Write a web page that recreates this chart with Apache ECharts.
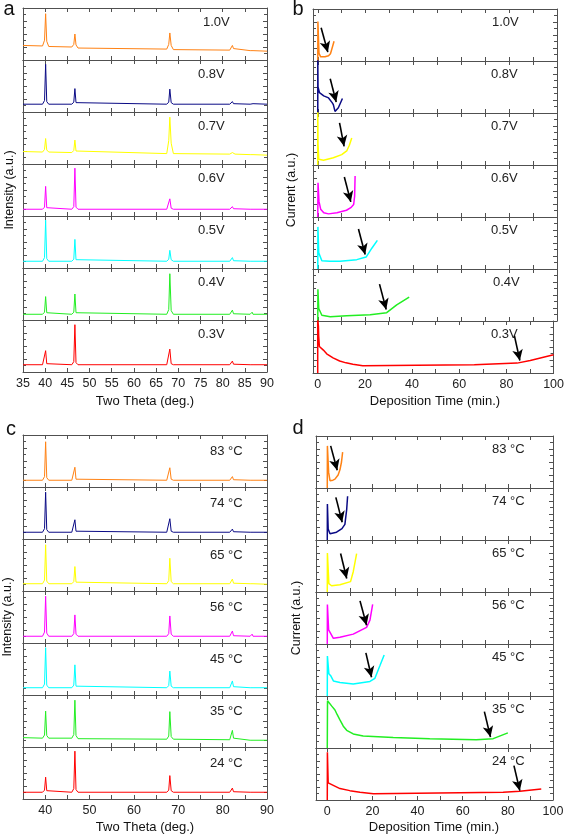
<!DOCTYPE html>
<html><head><meta charset="utf-8">
<script src="https://cdn.jsdelivr.net/npm/echarts@6/dist/echarts.min.js"></script>
<style>html,body{margin:0;padding:0;background:#fff}#c{width:567px;height:835px}</style>
</head><body><div id="c"></div>
<script>
// ---------- DATA ----------
const xrdX = [35, 39.4, 39.85, 40.1, 40.35, 40.8, 46.0, 46.45, 46.7, 46.95, 47.4, 67.4, 67.85, 68.1, 68.4, 68.9, 81.6, 81.95, 82.2, 82.45, 82.8, 86.2, 86.45, 86.65, 86.85, 87.1, 90];

const aLabels = ['1.0V', '0.8V', '0.7V', '0.6V', '0.5V', '0.4V', '0.3V'];
const cLabels = ['83 °C', '74 °C', '65 °C', '56 °C', '45 °C', '35 °C', '24 °C'];
const colors = ['#ff8214', '#0a0a85', '#ffff00', '#ff00ff', '#00ffff', '#22ee22', '#ff0000'];

const timeTicks = [0, 10, 20, 30, 40, 50, 60, 70, 80, 90, 100];
const timeLabels = [0, 20, 40, 60, 80, 100];

const aIntensity = [
  [.28,.27,.38,.89,.36,.26, .25,.30,.50,.29,.23, .21,.30,.52,.28,.20, .19,.22,.28,.22,.19, .18,.18,.18,.18,.18, .17],
  [.15,.15,.22,.92,.20,.15, .15,.19,.45,.18,.15, .15,.19,.44,.18,.15, .15,.16,.20,.16,.15, .15,.16,.18,.16,.15, .15],
  [.24,.23,.28,.49,.27,.23, .22,.26,.46,.25,.22, .20,.45,.90,.40,.20, .19,.20,.22,.20,.19, .18,.18,.18,.18,.18, .17],
  [.13,.13,.17,.57,.16,.13, .13,.18,.92,.17,.13, .13,.16,.33,.15,.13, .13,.14,.18,.14,.13, .13,.13,.15,.13,.13, .13],
  [.13,.13,.20,.92,.18,.13, .13,.17,.55,.16,.13, .13,.17,.34,.16,.13, .13,.14,.20,.14,.13, .13,.13,.14,.13,.13, .13],
  [.11,.11,.15,.45,.14,.11, .11,.15,.50,.14,.11, .11,.20,.89,.18,.11, .11,.12,.19,.12,.11, .11,.11,.15,.11,.11, .11],
  [.14,.14,.17,.41,.16,.14, .14,.20,.91,.18,.14, .14,.17,.44,.16,.14, .14,.15,.21,.15,.14, .14,.14,.14,.14,.14, .14]
];
const cIntensity = [
  [.13,.13,.20,.87,.18,.13, .13,.16,.38,.15,.13, .13,.16,.37,.15,.13, .13,.14,.20,.14,.13, .13,.13,.16,.13,.13, .13],
  [.13,.13,.20,.90,.18,.13, .13,.16,.37,.15,.13, .13,.16,.39,.15,.13, .13,.14,.19,.14,.13, .13,.13,.16,.13,.13, .13],
  [.14,.14,.21,.89,.19,.14, .14,.18,.47,.17,.14, .14,.20,.63,.18,.14, .14,.15,.23,.15,.14, .14,.14,.15,.14,.14, .13],
  [.13,.13,.21,.90,.19,.13, .13,.18,.54,.17,.13, .13,.18,.52,.17,.13, .13,.14,.23,.14,.13, .13,.13,.17,.13,.13, .13],
  [.14,.14,.21,.91,.19,.14, .14,.19,.58,.17,.14, .14,.18,.46,.17,.14, .14,.16,.27,.16,.14, .14,.14,.17,.14,.14, .14],
  [.18,.17,.23,.69,.22,.17, .17,.24,.90,.22,.16, .15,.21,.68,.20,.15, .14,.17,.32,.17,.14, .13,.13,.14,.13,.13, .13],
  [.13,.13,.17,.42,.16,.13, .13,.20,.92,.18,.13, .13,.17,.45,.16,.13, .13,.14,.21,.14,.13, .13,.13,.13,.13,.13, .13]
];

const bCurrent = [
  [[0,0],[0.05,0.76],[0.5,0.15],[1.2,0.08],[3,0.08],[4.5,0.1],[5.3,0.14],[6,0.25],[6.8,0.38]],
  [[0,0],[0,1.05],[0.1,0.5],[0.7,0.39],[2.5,0.33],[4.5,0.29],[6,0.2],[6.5,0.16],[7.2,0.03],[8.6,0.1],[10.3,0.28]],
  [[0,0],[0,1.05],[0.1,0.4],[0.4,0.11],[2.4,0.09],[6.5,0.14],[10,0.2],[12.1,0.27],[13.2,0.38],[14.2,0.52]],
  [[0,0],[0.1,0.66],[0.5,0.3],[1.2,0.15],[2.5,0.08],[4.5,0.06],[8,0.08],[12,0.13],[13.8,0.18],[15,0.24],[15.4,0.4],[15.6,0.79]],
  [[0,0],[0.05,0.81],[0.4,0.31],[1.7,0.16],[5,0.15],[9.3,0.15],[16.3,0.18],[20.2,0.23],[22.6,0.4],[24.9,0.55]],
  [[0,0],[0.05,0.61],[0.4,0.24],[1.7,0.11],[5.2,0.08],[12.1,0.1],[21.9,0.12],[28.8,0.16],[33,0.31],[38.2,0.46]],
  [[0,0],[0,1.05],[0.3,0.9],[0.4,0.72],[0.7,0.51],[2.4,0.44],[3.8,0.37],[6.5,0.29],[9.3,0.23],[12,0.195],[14.9,0.17],[19.1,0.14],[42,0.15],[66.4,0.16],[84.5,0.19],[90.1,0.24],[100,0.35]]
];
const bArrows = [
  [[1.4,0.64],[4.2,0.17]],
  [[5.2,0.66],[7.7,0.21]],
  [[9.1,0.81],[11,0.36]],
  [[11.1,0.77],[13.8,0.29]],
  [[17,0.77],[19.8,0.28]],
  [[25.8,0.71],[28.6,0.22]],
  [[83.4,0.72],[85.7,0.24]]
];
const dCurrent = [
  [[0,0],[0.05,0.81],[0.6,0.3],[1.2,0.14],[2.5,0.15],[3.4,0.17],[4.8,0.25],[5.6,0.35],[6.3,0.5],[6.8,0.69]],
  [[0,0],[0.05,0.69],[0.4,0.21],[1.2,0.12],[4.1,0.15],[6.5,0.22],[7.8,0.3],[8.6,0.59],[9,0.84]],
  [[0,0],[0.05,0.75],[0.7,0.16],[1.9,0.12],[5.6,0.14],[10.3,0.2],[11.5,0.39],[13,0.74]],
  [[0,0],[0.05,0.76],[0.6,0.27],[2.7,0.11],[5.6,0.13],[11.5,0.19],[17.4,0.32],[18.9,0.46],[20.1,0.76]],
  [[0,0],[0.05,0.77],[0.7,0.43],[1.5,0.39],[2.7,0.29],[5.6,0.26],[11.5,0.23],[18.9,0.28],[21.1,0.34],[23.3,0.58],[25.2,0.79]],
  [[0,0],[0.1,0.91],[0.7,0.89],[1.9,0.81],[3.4,0.73],[4.4,0.64],[5.6,0.54],[7.1,0.42],[8.6,0.34],[11.5,0.27],[15.9,0.23],[29.2,0.2],[45.4,0.18],[66,0.16],[73.5,0.18],[80,0.29]],
  [[0,0],[0.05,0.92],[0.4,0.33],[0.9,0.31],[5.6,0.22],[10,0.18],[14.5,0.15],[20.4,0.12],[39.5,0.13],[77.9,0.15],[85.3,0.17],[94.8,0.21]]
];
const dArrows = [
  [[1.5,0.81],[4.4,0.34]],
  [[3.8,0.82],[6.6,0.34]],
  [[5.9,0.74],[8.6,0.26]],
  [[14.5,0.83],[17.4,0.36]],
  [[17.1,0.83],[19.6,0.36]],
  [[69.6,0.7],[72.3,0.21]],
  [[82.7,0.66],[85.3,0.18]]
];

// ---------- LAYOUT ----------
const FONT = 'Liberation Sans, Arial, sans-serif';
const AX = '#505050';
const panels = [
  {key:'a', left:23, width:244, top:8, h:52, xmin:35, xmax:90, step:5, labelEvery:5,
   series: aIntensity.map(r => xrdX.map((x,i)=>[x, r[i]])), arrows:null, labels:aLabels, lw:1,
   lblX:[203,198,198,198,198,198,198], lblDy:14},
  {key:'b', left:313, width:244, top:9, h:52, xmin:-2, xmax:100, ticks:timeTicks, tickLabels:timeLabels,
   series: bCurrent, arrows:bArrows, labels:aLabels, lw:1.5,
   lblX:[492,491,491,491,491,493,491], lblDy:13},
  {key:'c', left:23, width:244, top:435, h:52, xmin:35, xmax:90, step:5, labelEvery:10,
   series: cIntensity.map(r => xrdX.map((x,i)=>[x, r[i]])), arrows:null, labels:cLabels, lw:1,
   lblX:[210,210,210,210,210,210,210], lblDy:16},
  {key:'d', left:316, width:237, top:436, h:52, xmin:-5, xmax:100, ticks:timeTicks, tickLabels:timeLabels,
   series: dCurrent, arrows:dArrows, labels:cLabels, lw:1.5,
   lblX:[492,492,492,492,492,492,492], lblDy:13}
];

const grid = [], xAxis = [], yAxis = [], series = [], graphic = [];
panels.forEach(p => {
  for (let i = 0; i < 7; i++) {
    const gi = grid.length;
    const top = p.top + i * p.h;
    grid.push({left:p.left, top:top, width:p.width, height:p.h, show:false});
    const last = i === 6;
    const xBase = {gridIndex:gi, type:'value', min:p.xmin, max:p.xmax,
      axisLine:{show:true, onZero:false, lineStyle:{color:AX, width:1}},
      axisTick:{show:true, inside:true, length:4, lineStyle:{color:AX}},
      splitLine:{show:false}};
    const lbl = {show:last, margin:5, color:'#222', fontFamily:FONT, fontSize:12.5,
      showMinLabel:true, showMaxLabel:true};
    if (p.ticks) {
      xBase.axisTick.customValues = p.ticks;
      lbl.customValues = p.tickLabels;
    } else {
      xBase.interval = p.step;
      lbl.formatter = v => (Math.round(v) % p.labelEvery === 0) ? String(Math.round(v)) : '';
    }
    xAxis.push(Object.assign({}, xBase, {position:'bottom', axisLabel:lbl}));
    xAxis.push(Object.assign({}, xBase, {position:'top', axisLabel:{show:false}}));
    const yBase = {gridIndex:gi, type:'value', min:0, max:1, interval:0.25,
      axisLine:{show:true, onZero:false, lineStyle:{color:AX, width:1}},
      axisTick:{show:true, inside:true, length:4, lineStyle:{color:AX}},
      minorTick:{show:true, splitNumber:2, length:3, lineStyle:{color:AX}},
      axisLabel:{show:false}, splitLine:{show:false}};
    yAxis.push(Object.assign({}, yBase, {position:'left'}));
    yAxis.push(Object.assign({}, yBase, {position:'right'}));
    const s = {type:'line', xAxisIndex:2*gi, yAxisIndex:2*gi, data:p.series[i],
      showSymbol:false, symbol:'none', animation:false, silent:true, clip:true,
      lineStyle:{color:colors[i], width:p.lw}, itemStyle:{color:colors[i]}};
    if (p.arrows) {
      const a = p.arrows[i];
      s.markLine = {silent:true, animation:false, symbol:['none','arrow'], symbolSize:[8,11],
        label:{show:false}, lineStyle:{color:'#000', width:1.6, type:'solid'},
        emphasis:{disabled:true},
        data:[[{coord:a[0]},{coord:a[1]}]]};
    }
    series.push(s);
    graphic.push({type:'text', x:p.lblX[i], y:top + p.lblDy, silent:true,
      style:{text:p.labels[i], fill:'#222', font:'13px ' + FONT, textAlign:'left', textVerticalAlign:'middle'}});
  }
});

// panel letters and axis titles
const txt = (t, x, y, size, rot) => ({type:'text', x:x, y:y, rotation:rot||0, silent:true,
  style:{text:t, fill:'#111', font:size + 'px ' + FONT, textAlign:'center', textVerticalAlign:'middle'}});
graphic.push(txt('a', 9, 9, 20), txt('b', 298, 9, 20), txt('c', 11, 429, 20), txt('d', 298, 428, 20));
graphic.push(txt('Intensity (a.u.)', 10, 190, 12.5, Math.PI/2));
graphic.push(txt('Intensity (a.u.)', 8, 617, 12.5, Math.PI/2));
graphic.push(txt('Current (a.u.)', 292, 190, 12.5, Math.PI/2));
graphic.push(txt('Current (a.u.)', 297, 618, 12.5, Math.PI/2));
graphic.push(txt('Two Theta (deg.)', 145, 401, 13));
graphic.push(txt('Deposition Time (min.)', 435, 401, 13));
graphic.push(txt('Two Theta (deg.)', 145, 827, 13));
graphic.push(txt('Deposition Time (min.)', 434, 827, 13));

const chart = echarts.init(document.getElementById('c'), null, {renderer:'canvas'});
chart.setOption({animation:false, backgroundColor:'#fff', grid, xAxis, yAxis, series, graphic});
</script>
</body></html>
